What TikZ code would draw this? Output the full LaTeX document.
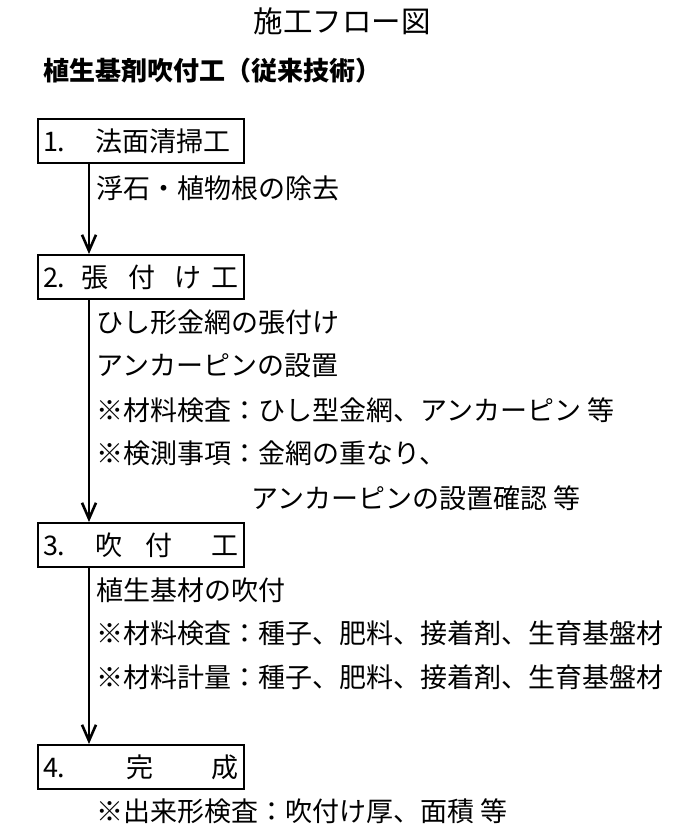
\documentclass[tikz,border=0pt]{standalone}
\usepackage{fontspec}
\setmainfont{Noto Sans CJK JP}
\usetikzlibrary{arrows.meta,calc}
\begin{document}
\begin{tikzpicture}[x=1pt,y=-1pt,
  stepbox/.style={draw,line width=2pt,inner sep=0pt,minimum height=44pt,anchor=north west,font=\fontsize{27pt}{30pt}\selectfont},
  body/.style={anchor=west,inner sep=0pt,font=\fontsize{27pt}{30pt}\selectfont},
  arr/.style={line width=2.6pt,-{Straight Barb[length=16pt,width=14pt]}}]
\useasboundingbox (0,0) rectangle (684,835);
\node[anchor=center,inner sep=0pt,font=\fontsize{29.5pt}{32pt}\selectfont] (title) at (342,21) {施工フロー図};
\node[anchor=west,inner sep=0pt,font=\fontsize{26pt}{30pt}\selectfont\bfseries] (head) at (43,71) {植生基剤吹付工（従来技術）};
\node[stepbox] (b1) at (37,118) {\makebox[206pt][l]{\hspace{5pt}\makebox[53pt][l]{1.}法面清掃工}};
\node[stepbox] (b2) at (37,254) {\makebox[206pt][l]{\hspace{5pt}\makebox[39pt][l]{2.}\makebox[47pt][l]{張}\makebox[46pt][l]{付}\makebox[37pt][l]{け}工}};
\node[stepbox] (b3) at (37,522) {\makebox[206pt][l]{\hspace{5pt}\makebox[53pt][l]{3.}\makebox[50pt][l]{吹}\makebox[66pt][l]{付}工}};
\node[stepbox] (b4) at (37,744) {\makebox[206pt][l]{\hspace{5pt}\makebox[84pt][l]{4.}\makebox[85pt][l]{完}成}};
\node[body] (t1) at (96,188) {浮石・植物根の除去};
\node[body] (t2a) at (96,322) {ひし形金網の張付け};
\node[body] (t2b) at (96,366) {アンカーピンの設置};
\node[body] (t2c) at (96,410) {※材料検査：ひし型金網、アンカーピン 等};
\node[body] (t2d) at (96,453) {※検測事項：金網の重なり、};
\node[body] (t2e) at (251,498) {アンカーピンの設置確認 等};
\node[body] (t3a) at (96,590) {植生基材の吹付};
\node[body] (t3b) at (96,633) {※材料検査：種子、肥料、接着剤、生育基盤材};
\node[body] (t3c) at (96,677) {※材料計量：種子、肥料、接着剤、生育基盤材};
\node[body] (t4) at (96,811) {※出来形検査：吹付け厚、面積 等};
\draw[arr] ($(b1.south west)+(52,0)$) -- ($(b2.north west)+(52,0)$);
\draw[arr] ($(b2.south west)+(52,0)$) -- ($(b3.north west)+(52,0)$);
\draw[arr] ($(b3.south west)+(52,0)$) -- ($(b4.north west)+(52,0)$);
\end{tikzpicture}
\end{document}
